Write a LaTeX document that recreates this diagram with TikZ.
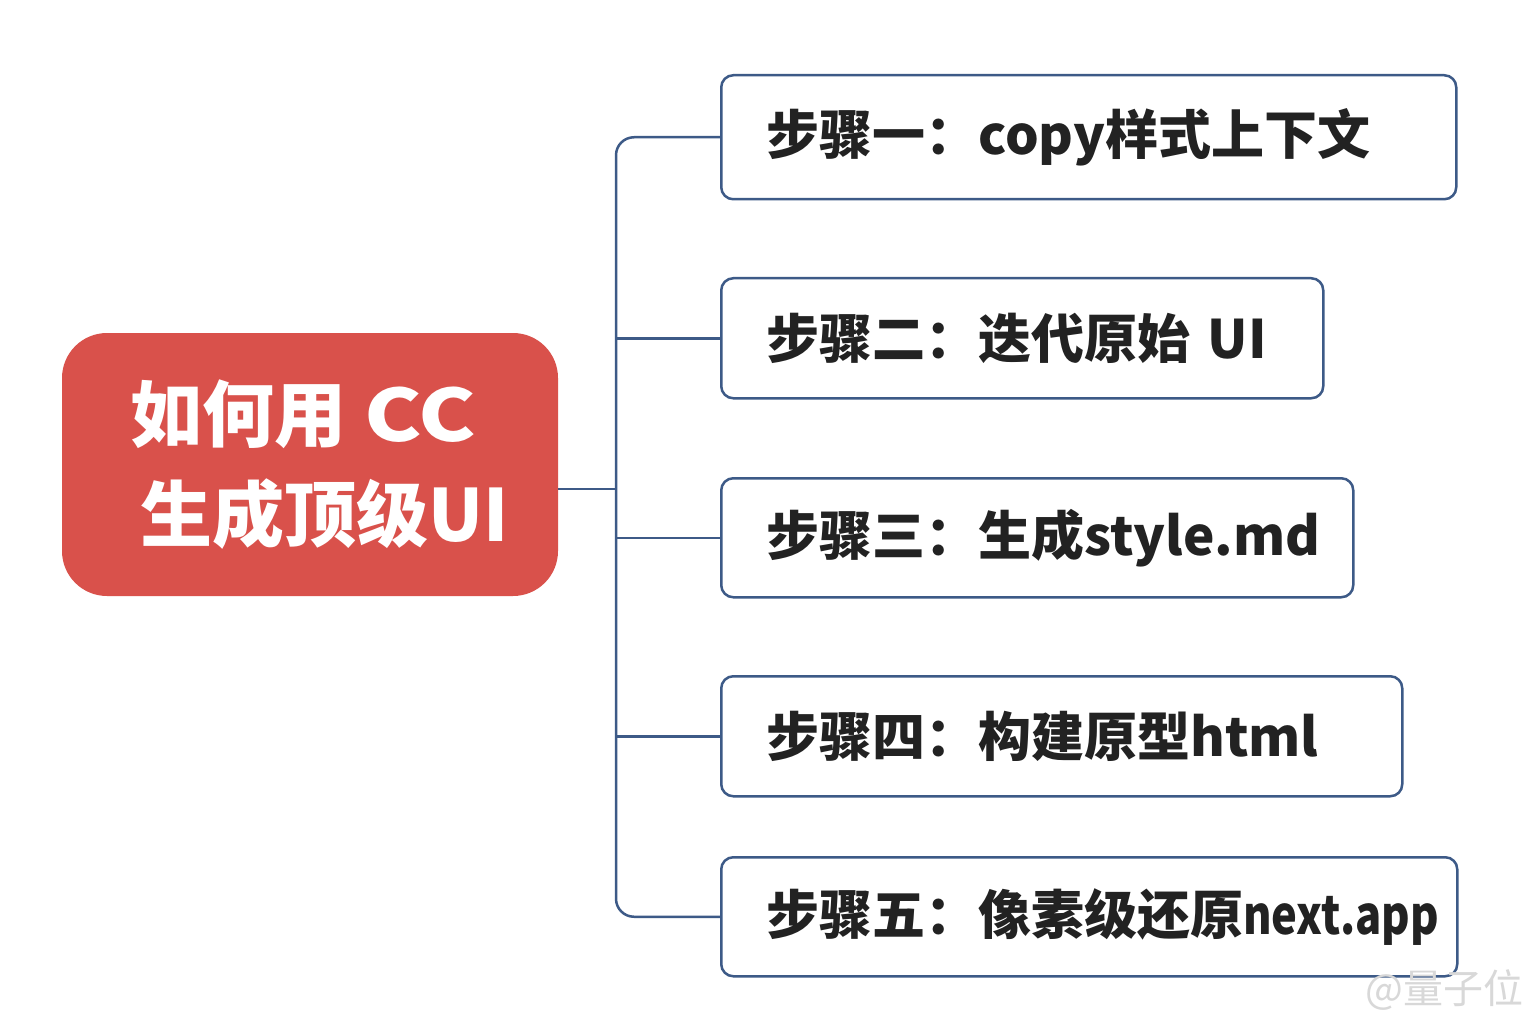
\documentclass[tikz,border=0pt]{standalone}
\usepackage{fontspec}
\usepackage{graphicx}
\setmainfont{Noto Sans CJK SC}
\usetikzlibrary{calc}
\definecolor{rootred}{HTML}{D9514B}
\definecolor{linkblue}{HTML}{3D5A87}
\definecolor{txt}{HTML}{222222}
\definecolor{wm}{HTML}{D8D8D8}
\begin{document}
\begin{tikzpicture}[x=1pt,y=-1pt,
  rootbox/.style={fill=rootred, rounded corners=45pt, inner sep=0pt},
  roottext/.style={text=white, inner sep=0pt,
    font=\fontsize{72}{100}\selectfont\bfseries, align=left},
  stepbox/.style={draw=linkblue, line width=2.5pt, rounded corners=12pt, fill=white,
    anchor=north west, inner xsep=45pt, inner ysep=0pt, align=left, text=txt,
    font=\fontsize{53}{60}\selectfont\bfseries},
  link/.style={draw=linkblue, line width=2.5pt}]
\useasboundingbox (0,0) rectangle (1536,1024);
\fill[white] (0,0) rectangle (1536,1024);
% root
\node[rootbox, minimum width=496pt, minimum height=263pt] (root) at (310,464.5) {};
\node[roottext] (rootlabel) at (324.5,465) {\hspace*{-10pt}如何用\hspace{18pt}\scalebox{1.2}[1]{CC}\\生成顶级UI};
% steps
\node[stepbox, text width=645pt, minimum height=124pt] (b1) at (720,74) {步骤一：copy样式上下文};
\node[stepbox, text width=512pt, minimum height=120pt] (b2) at (720,277) {步骤二：迭代原始 UI};
\node[stepbox, text width=542pt, minimum height=119pt] (b3) at (720,477) {步骤三：生成style.md};
\node[stepbox, text width=591pt, minimum height=120pt] (b4) at (720,675) {步骤四：构建原型html};
\node[stepbox, text width=646pt, minimum height=119pt] (b5) at (720,856) {步骤五：像素级还原\scalebox{0.82}[1]{next.app}};
% connectors
\coordinate (j) at (616,489);
\coordinate (rj) at (558,489);
\draw[link] (rj) -- (j);
\draw[link, rounded corners=18pt] (b1.west) -- (b1.west -| j) -- (b5.west -| j) -- (b5.west);
\draw[link] (b2.west) -- (b2.west -| j);
\draw[link] (b3.west) -- (b3.west -| j);
\draw[link] (b4.west) -- (b4.west -| j);
% watermark
\node[text=wm, font=\fontsize{40}{40}\selectfont, anchor=west] (wmark) at (1362,990) {@量子位};
\end{tikzpicture}
\end{document}
